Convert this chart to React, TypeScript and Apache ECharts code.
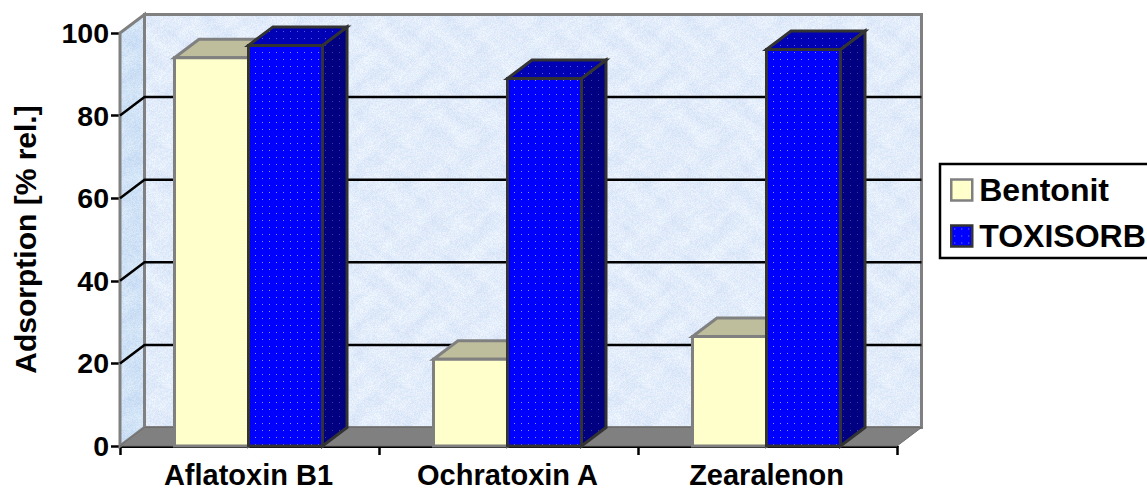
import React, { useEffect, useRef } from "react";
import * as echarts from "echarts";

const categories = ["Aflatoxin B1", "Ochratoxin A", "Zearalenon"];
const bentonit = [94, 21, 26.5];
const toxisorb = [97, 89, 96];
const gridValues = [20, 40, 60, 80];
const FONT = '"Liberation Sans", Arial, sans-serif';

const DEPTH_X = 24.5;
const DEPTH_Y = -18.5;
const BAR_FRACTION = 74 / 259;

function makeMarble(r0: number, g0: number, b0: number, amp: number) {
  const size = 240;
  const c = document.createElement("canvas");
  c.width = size;
  c.height = size;
  const ctx = c.getContext("2d")!;
  const img = ctx.createImageData(size, size);
  const tau = (Math.PI * 2) / size;
  const hash = (x: number, y: number) => {
    const h = Math.sin(x * 12.9898 + y * 78.233) * 43758.5453;
    return h - Math.floor(h) - 0.5;
  };
  for (let y = 0; y < size; y++) {
    for (let x = 0; x < size; x++) {
      const smooth =
        Math.sin(x * tau * 5 + Math.sin(y * tau * 3) * 2.5) * 0.2 +
        Math.sin(y * tau * 8 + Math.sin(x * tau * 4) * 2.5) * 0.18 +
        Math.sin(x * tau * 13 + Math.sin(y * tau * 9) * 3) * 0.12;
      const n = (smooth + hash(x, y) * 1.3) * amp;
      const i = (y * size + x) * 4;
      img.data[i] = r0 + n * 1.3 + hash(y, x) * 10;
      img.data[i + 1] = g0 + n;
      img.data[i + 2] = b0 + n * 0.35;
      img.data[i + 3] = 255;
    }
  }
  ctx.putImageData(img, 0, 0);
  return { image: c.toDataURL(), repeat: "repeat" as const, imageWidth: size, imageHeight: size };
}

function makeDots(bg: string, dot: string) {
  const size = 7;
  const c = document.createElement("canvas");
  c.width = size;
  c.height = size;
  const ctx = c.getContext("2d")!;
  ctx.fillStyle = bg;
  ctx.fillRect(0, 0, size, size);
  ctx.fillStyle = dot;
  ctx.fillRect(3, 3, 1, 1);
  return { image: c.toDataURL(), repeat: "repeat" as const, imageWidth: size, imageHeight: size };
}

function poly(points: number[][], style: any) {
  return { type: "polygon", shape: { points }, style };
}

export default function App() {
  const ref = useRef<HTMLDivElement>(null);
  useEffect(() => {
    document.body.style.margin = "0";
    document.body.style.overflow = "hidden";
    const chart = echarts.init(ref.current!, undefined, { renderer: "svg" });

    const backMarble = makeMarble(226, 236, 250, 11);
    const sideMarble = makeMarble(208, 226, 246, 11);
    const blueFront = makeDots("#0000ff", "#8f8fff");
    const blueTop = makeDots("#0000b4", "#5a5ad8");
    const blueSide = makeDots("#000080", "#3a3aa0");

    const plotEdges = (api: any) => {
      const band = api.size([1, 0])[0];
      const xl = api.coord([0, 0])[0] - band / 2;
      const xr = api.coord([categories.length - 1, 0])[0] + band / 2;
      return { xl, xr };
    };

    const renderBox = (seriesIdx: number, s: any) => (params: any, api: any) => {
      const cat = api.value(0);
      const val = api.value(1);
      const band = api.size([1, 0])[0];
      const w = band * BAR_FRACTION;
      const [cx, yTop] = api.coord([cat, val]);
      const [, yBase] = api.coord([cat, 0]);
      const x0 = seriesIdx === 0 ? cx - w - 1 : cx - 1;
      const x1 = x0 + w;
      const line = { stroke: s.border, lineWidth: s.lw, lineJoin: "miter" };
      return {
        type: "group",
        children: [
          poly(
            [[x1, yTop], [x1 + DEPTH_X, yTop + DEPTH_Y], [x1 + DEPTH_X, yBase + DEPTH_Y], [x1, yBase]],
            { fill: s.side, ...line }
          ),
          poly(
            [[x0, yTop], [x0 + DEPTH_X, yTop + DEPTH_Y], [x1 + DEPTH_X, yTop + DEPTH_Y], [x1, yTop]],
            { fill: s.top, ...line }
          ),
          poly([[x0, yTop], [x1, yTop], [x1, yBase], [x0, yBase]], { fill: s.front, ...line }),
        ],
      };
    };

    const wallRender = (params: any, api: any) => {
      const { xl, xr } = plotEdges(api);
      const y0 = api.coord([0, 0])[1];
      const y100 = api.coord([0, 100])[1];
      const wall = { stroke: "#808080", lineWidth: 3 };
      return {
        type: "group",
        children: [
          poly(
            [[xl + DEPTH_X, y100 + DEPTH_Y], [xr + DEPTH_X, y100 + DEPTH_Y], [xr + DEPTH_X, y0 + DEPTH_Y], [xl + DEPTH_X, y0 + DEPTH_Y]],
            { fill: backMarble, ...wall }
          ),
          poly(
            [[xl, y100], [xl + DEPTH_X, y100 + DEPTH_Y], [xl + DEPTH_X, y0 + DEPTH_Y], [xl, y0]],
            { fill: sideMarble, ...wall }
          ),
          poly(
            [[xl, y0], [xl + DEPTH_X, y0 + DEPTH_Y], [xr + DEPTH_X, y0 + DEPTH_Y], [xr, y0]],
            { fill: "#808080", stroke: "#6e6e6e", lineWidth: 1 }
          ),
        ],
      };
    };

    const gridRender = (params: any, api: any) => {
      const { xl, xr } = plotEdges(api);
      const v = api.value(1);
      const y = api.coord([0, v])[1];
      return {
        type: "polyline",
        shape: { points: [[xl, y], [xl + DEPTH_X, y + DEPTH_Y], [xr + DEPTH_X, y + DEPTH_Y]] },
        style: { stroke: "#000", lineWidth: 2.5, fill: "none" },
      };
    };

    const bentStyle = { front: "#ffffcc", top: "#bebe9c", side: "#80805f", border: "#808080", lw: 3 };
    const toxStyle = { front: blueFront, top: blueTop, side: blueSide, border: "#333333", lw: 3 };

    chart.setOption({
      animation: false,
      backgroundColor: "#ffffff",
      textStyle: { fontFamily: FONT },
      grid: { left: 120, right: 250, top: 33, bottom: 44, containLabel: false, outerBoundsMode: "none" },
      legend: {
        left: 940,
        top: 164,
        orient: "vertical",
        data: [
          { name: "Bentonit", icon: "rect", itemStyle: { color: "#ffffcc", borderColor: "#808080", borderWidth: 2.5 } },
          { name: "TOXISORB", icon: "rect", itemStyle: { color: blueFront, borderColor: "#333333", borderWidth: 2.5 } },
        ],
        itemWidth: 21,
        itemHeight: 21,
        itemGap: 14,
        itemStyle: {},
        padding: [10, 30, 6, 10],
        borderColor: "#000",
        borderWidth: 2.5,
        backgroundColor: "#fff",
        textStyle: { fontFamily: FONT, fontWeight: "bold", fontSize: 32, color: "#000", padding: [0, 0, 0, 2] },
      },
      xAxis: {
        type: "category",
        data: categories,
        boundaryGap: true,
        axisLine: { lineStyle: { color: "#000", width: 3 } },
        axisTick: { show: true, length: 9, alignWithLabel: false, lineStyle: { color: "#000", width: 2.5 } },
        axisLabel: { fontFamily: FONT, fontWeight: "bold", fontSize: 29, color: "#000", margin: 16, lineHeight: 26, padding: [0, 2, 0, 0] },
        splitLine: { show: false },
      },
      yAxis: {
        type: "value",
        min: 0,
        max: 100,
        interval: 20,
        name: "Adsorption [% rel.]",
        nameLocation: "middle",
        nameGap: 80,
        nameRotate: 90,
        nameTextStyle: { fontFamily: FONT, fontWeight: "bold", fontSize: 30, color: "#000" },
        axisLine: { show: true, lineStyle: { color: "#000", width: 3 } },
        axisTick: { show: true, length: 9, lineStyle: { color: "#000", width: 2.5 } },
        axisLabel: { fontFamily: FONT, fontWeight: "bold", fontSize: 28.5, color: "#000", margin: 11 },
        splitLine: { show: false },
      },
      series: [
        {
          name: "walls",
          type: "custom",
          z: 1,
          renderItem: wallRender,
          data: [[0, 0]],
          encode: { x: 0, y: 1 },
          silent: true,
        },
        {
          name: "grid",
          type: "custom",
          z: 2,
          renderItem: gridRender,
          data: gridValues.map((v) => [0, v]),
          encode: { x: 0, y: 1 },
          silent: true,
        },
        {
          name: "Bentonit",
          type: "custom",
          z: 3,
          renderItem: renderBox(0, bentStyle),
          data: bentonit.map((v, i) => [i, v]),
          encode: { x: 0, y: 1 },
          itemStyle: { color: "#ffffcc" },
        },
        {
          name: "TOXISORB",
          type: "custom",
          z: 4,
          renderItem: renderBox(1, toxStyle),
          data: toxisorb.map((v, i) => [i, v]),
          encode: { x: 0, y: 1 },
          itemStyle: { color: "#0000ff" },
        },
      ],
    });
    return () => chart.dispose();
  }, []);
  return <div ref={ref} style={{ width: 1147, height: 490 }} />;
}
